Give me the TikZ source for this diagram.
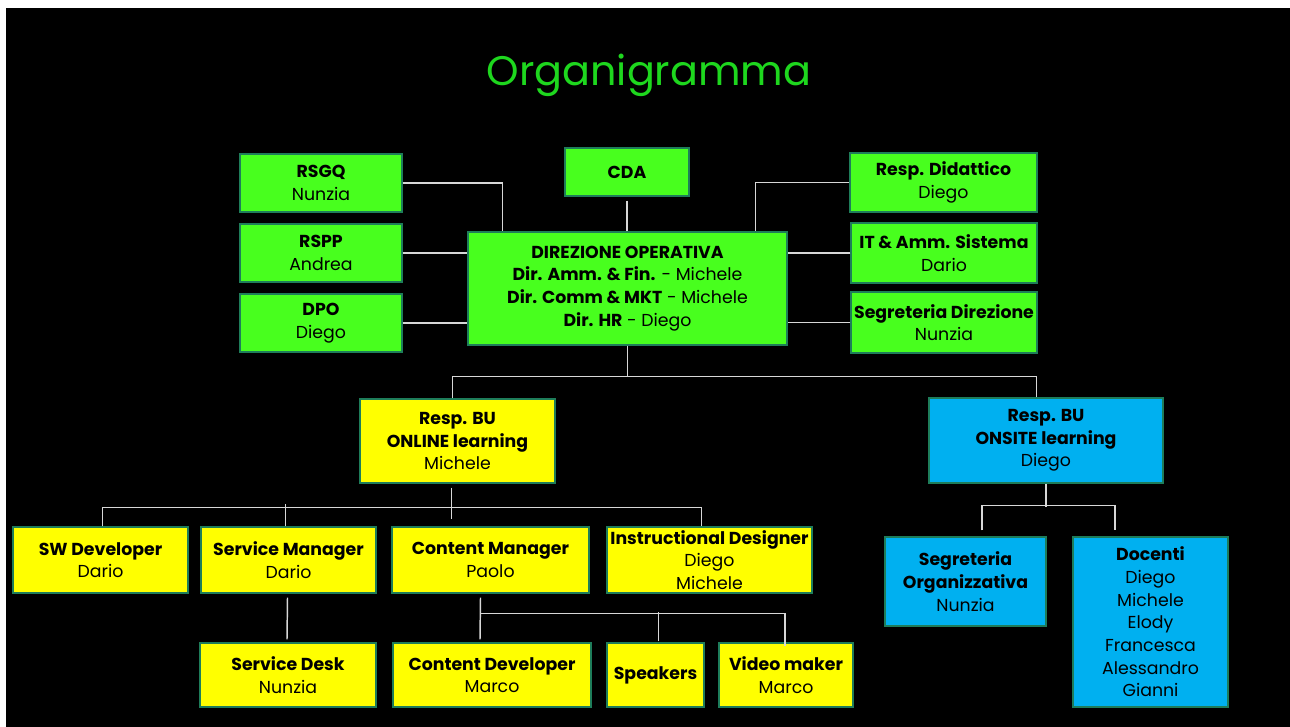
\documentclass[tikz,border=0pt]{standalone}
\usepackage{fontspec}
\setmainfont{Poppins}
\usetikzlibrary{calc}
\definecolor{titlegreen}{RGB}{30,215,30}
\definecolor{boxgreen}{RGB}{72,255,30}
\definecolor{boxyellow}{RGB}{255,255,0}
\definecolor{boxblue}{RGB}{0,176,240}
\definecolor{boxedge}{RGB}{30,125,90}
\definecolor{linkgray}{RGB}{215,215,215}
\newcommand\bx[7]{\node[#2, minimum width={(#5-#3)*0.75pt}, minimum height={(#6-#4)*0.75pt}] (#1) at ({(#3+#5)/2},{(#4+#6)/2}) {#7};}
\begin{document}
\begin{tikzpicture}[x=0.75pt,y=-0.75pt,
  orgbox/.style={draw=boxedge, line width=0.9pt, inner sep=0pt, align=center,
    font=\fontsize{13}{17}\selectfont, text=black},
  gbox/.style={orgbox, fill=boxgreen},
  ybox/.style={orgbox, fill=boxyellow},
  bbox/.style={orgbox, fill=boxblue},
  link/.style={draw=linkgray, line width=1.1pt},
  titletext/.style={text=titlegreen, font=\fontsize{31}{38}\selectfont, inner sep=0pt}]
\useasboundingbox (0,0) rectangle (1290,727);
\fill[white] (0,0) rectangle (1290,727);
\fill[black] (6,8) rectangle (1290,727);

\node[titletext] (title) at (649,75) {Organigramma};

% top level
\bx{cda}{gbox}{565}{148}{689}{196}{\bfseries CDA}
\bx{rsgq}{gbox}{240}{154}{402}{212}{\textbf{RSGQ}\\Nunzia}
\bx{rspp}{gbox}{240}{224}{402}{282}{\textbf{RSPP}\\Andrea}
\bx{dpo}{gbox}{240}{294}{402}{352}{\textbf{DPO}\\Diego}
\bx{dir}{gbox}{468}{232}{787}{345}{\textbf{DIREZIONE OPERATIVA}\\\textbf{Dir. Amm. \& Fin.} - Michele\\\textbf{Dir. Comm \& MKT} - Michele\\\textbf{Dir. HR} - Diego}
\bx{did}{gbox}{850}{153}{1037}{212}{\textbf{Resp. Didattico}\\Diego}
\bx{it}{gbox}{851}{223}{1037}{283}{\textbf{IT \& Amm. Sistema}\\Dario}
\bx{segd}{gbox}{851}{292}{1037}{353}{\textbf{Segreteria Direzione}\\Nunzia}

% business units
\bx{onl}{ybox}{360}{399}{555}{483}{\textbf{Resp. BU}\\\textbf{ONLINE learning}\\Michele}
\bx{ons}{bbox}{929}{398}{1163}{483}{\textbf{Resp. BU}\\\textbf{ONSITE learning}\\Diego}

% online branch
\bx{swd}{ybox}{13}{527}{188}{593}{\textbf{SW Developer}\\Dario}
\bx{smg}{ybox}{201}{527}{376}{593}{\textbf{Service Manager}\\Dario}
\bx{cmg}{ybox}{392}{527}{589}{593}{\textbf{Content Manager}\\Paolo}
\bx{ind}{ybox}{607}{527}{812}{593}{\textbf{Instructional Designer}\\Diego\\Michele}
\bx{sdesk}{ybox}{200}{643}{376}{707}{\textbf{Service Desk}\\Nunzia}
\bx{cdev}{ybox}{393}{643}{591}{707}{\textbf{Content Developer}\\Marco}
\bx{spk}{ybox}{607}{643}{704}{707}{\textbf{Speakers}}
\bx{vid}{ybox}{719}{643}{853}{707}{\textbf{Video maker}\\Marco}

% onsite branch
\bx{sorg}{bbox}{885}{537}{1046}{626}{\textbf{Segreteria}\\\textbf{Organizzativa}\\Nunzia}
\bx{doc}{bbox}{1073}{537}{1228}{707}{\textbf{Docenti}\\Diego\\Michele\\Elody\\Francesca\\Alessandro\\Gianni}

% connectors: top level
\draw[link] (rsgq.east) -| ($(dir.north west)+(35,0)$);
\draw[link] (rspp.east) -- (rspp.east -| dir.west);
\draw[link] (dpo.east) -- (dpo.east -| dir.west);
\draw[link] ($(cda.south)+(0,4)$) -- (cda.south |- dir.north);
\draw[link] (did.west) -| ($(dir.north east)+(-32,0)$);
\draw[link] (it.west) -- (it.west -| dir.east);
\draw[link] (segd.west) -- (segd.west -| dir.east);

% connectors: to business units
\draw[link] (dir.south) -- ++(0,31) coordinate (j1);
\draw[link] ($(onl.north west)+(93,0)$) |- (j1) -| ($(ons.north west)+(108,0)$);

% connectors: online branch
\draw[link] ($(onl.south)+(-6,4)$) -- ++(0,31);
\draw[link] ($(swd.north)+(2,0)$) -- ++(0,-19) -| ($(ind.north)+(-8,0)$);
\draw[link] ($(smg.north)+(-3,0)$) -- ++(0,-22);
\draw[link] ($(smg.south)+(-1,4)$) -- ($(sdesk.north)+(-1,-3)$);
\draw[link] ($(cmg.south)+(-10,4)$) -- ($(cdev.north)+(-12,-3)$);
\draw[link] ($(cmg.south)+(-10,20)$) -| ($(vid.north)+(-1,4)$);
\draw[link] ($(spk.north)+(3,-1)$) -- ++(0,-29);

% connectors: onsite branch
\draw[link] (ons.south) -- ++(0,23);
\draw[link] ($(sorg.north)+(16.5,-6)$) -- ++(0,-25) -| ($(doc.north)+(-35.5,-6)$);
\end{tikzpicture}
\end{document}
